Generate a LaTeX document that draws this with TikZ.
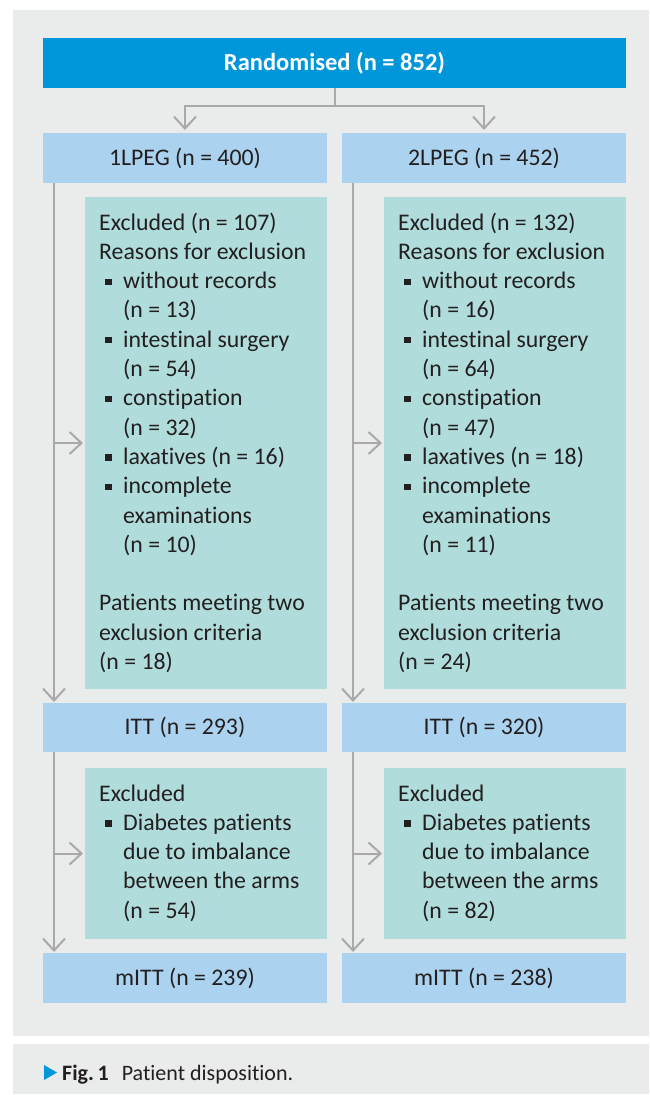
\documentclass[tikz,border=0pt]{standalone}
\usepackage{fontspec}
\setmainfont{Carlito}[Ligatures={NoCommon}]
\usetikzlibrary{arrows.meta,calc}
\definecolor{panelbg}{HTML}{EAEBEB}
\definecolor{randblue}{HTML}{0096DA}
\definecolor{lightblue}{HTML}{ABD3F0}
\definecolor{exgreen}{HTML}{B0DDDB}
\definecolor{linegray}{HTML}{A9A9AB}
\definecolor{txt}{HTML}{231F20}
\newcommand\bitem[1]{\par\hangindent=24pt\hangafter=1\noindent\makebox[24pt][l]{\hspace{6pt}\raisebox{3.8pt}{\rule{6.3pt}{6.3pt}}}#1\par}
\tikzset{
  box/.style={anchor=north west, inner sep=0pt, outer sep=0pt, minimum width=#1},
  bodyfont/.style={text=txt, font={\fontsize{23.8}{29.3}\selectfont}},
  armbox/.style={box=284pt, fill=lightblue, bodyfont},
  exbox/.style={box=242pt, fill=exgreen},
  extext/.style={anchor=base west, inner sep=0pt, bodyfont},
  conn/.style={draw=linegray, line width=2pt, -{Straight Barb[length=12pt,width=22pt]}},
}
\begin{document}
\begin{tikzpicture}[x=1pt,y=-1pt]
\fill[white] (0,0) rectangle (649,1095);
\useasboundingbox (0,0) rectangle (649,1095);
\fill[panelbg] (13,10) rectangle (649,1036);
\fill[panelbg] (13,1044) rectangle (649,1094);

\node[box=583pt, minimum height=50pt, fill=randblue, text=white, font={\fontsize{24.5}{29}\selectfont\bfseries}] (rand) at (43,38) {Randomised (n = 852)};

\node[armbox, minimum height=50pt] (g1) at (43,133) {1LPEG (n = 400)};
\node[armbox, minimum height=50pt] (g2) at (342,133) {2LPEG (n = 452)};

\node[exbox, minimum height=492pt] (ex1) at (85,197) {};
\node[exbox, minimum height=492pt] (ex2) at (384,197) {};

\node[armbox, minimum height=49pt] (itt1) at (43,703) {ITT (n = 293)};
\node[armbox, minimum height=49pt] (itt2) at (342,703) {ITT (n = 320)};

\node[exbox, minimum height=171pt] (exd1) at (85,768) {};
\node[exbox, minimum height=171pt] (exd2) at (384,768) {};

\node[armbox, minimum height=50pt] (m1) at (43,953) {mITT (n = 239)};
\node[armbox, minimum height=50pt] (m2) at (342,953) {mITT (n = 238)};

\node[extext] (t1) at (99,230) {\parbox[t]{222pt}{%
Excluded (n = 107)\par
Reasons for exclusion\par
\bitem{without records\newline (n = 13)}
\bitem{intestinal surgery\newline (n = 54)}
\bitem{constipation\newline (n = 32)}
\bitem{laxatives (n = 16)}
\bitem{incomplete\newline examinations\newline (n = 10)}
\mbox{}\par
Patients meeting two\newline exclusion criteria\newline (n = 18)}};

\node[extext] (t2) at (398,230) {\parbox[t]{222pt}{%
Excluded (n = 132)\par
Reasons for exclusion\par
\bitem{without records\newline (n = 16)}
\bitem{intestinal surgery\newline (n = 64)}
\bitem{constipation\newline (n = 47)}
\bitem{laxatives (n = 18)}
\bitem{incomplete\newline examinations\newline (n = 11)}
\mbox{}\par
Patients meeting two\newline exclusion criteria\newline (n = 24)}};

\node[extext] (t3) at (99,801) {\parbox[t]{222pt}{%
Excluded\par
\bitem{Diabetes patients\newline due to imbalance\newline between the arms\newline (n = 54)}}};

\node[extext] (t4) at (398,801) {\parbox[t]{222pt}{%
Excluded\par
\bitem{Diabetes patients\newline due to imbalance\newline between the arms\newline (n = 82)}}};

% connectors from randomisation
\draw[conn, shorten >=3pt] (rand.south) -- ++(0,18) -| (g1.north);
\draw[conn, shorten >=3pt] (rand.south) -- ++(0,18) -| (g2.north);

% column connectors
\coordinate (v1) at ($(g1.south west)+(11,0)$);
\coordinate (v2) at ($(g2.south west)+(11,0)$);
\coordinate (w1) at ($(itt1.south west)+(11,0)$);
\coordinate (w2) at ($(itt2.south west)+(11,0)$);

\draw[conn, shorten >=1pt] (v1) -- (v1 |- itt1.north);
\draw[conn, shorten >=2pt] (v1 |- ex1.west) -- (ex1.west);
\draw[conn, shorten >=1pt] (v2) -- (v2 |- itt2.north);
\draw[conn, shorten >=2pt] (v2 |- ex2.west) -- (ex2.west);

\draw[conn, shorten >=1pt] (w1) -- (w1 |- m1.north);
\draw[conn, shorten >=2pt] (w1 |- exd1.west) -- (exd1.west);
\draw[conn, shorten >=1pt] (w2) -- (w2 |- m2.north);
\draw[conn, shorten >=2pt] (w2 |- exd2.west) -- (exd2.west);

% caption
\fill[randblue] (44,1065) -- (57,1072.5) -- (44,1080) -- cycle;
\node[anchor=base west, inner sep=0pt, text=txt, font={\fontsize{22}{26}\selectfont}] (cap) at (62,1080) {\textbf{Fig.\,1}\hspace{13pt}Patient disposition.};
\end{tikzpicture}
\end{document}
